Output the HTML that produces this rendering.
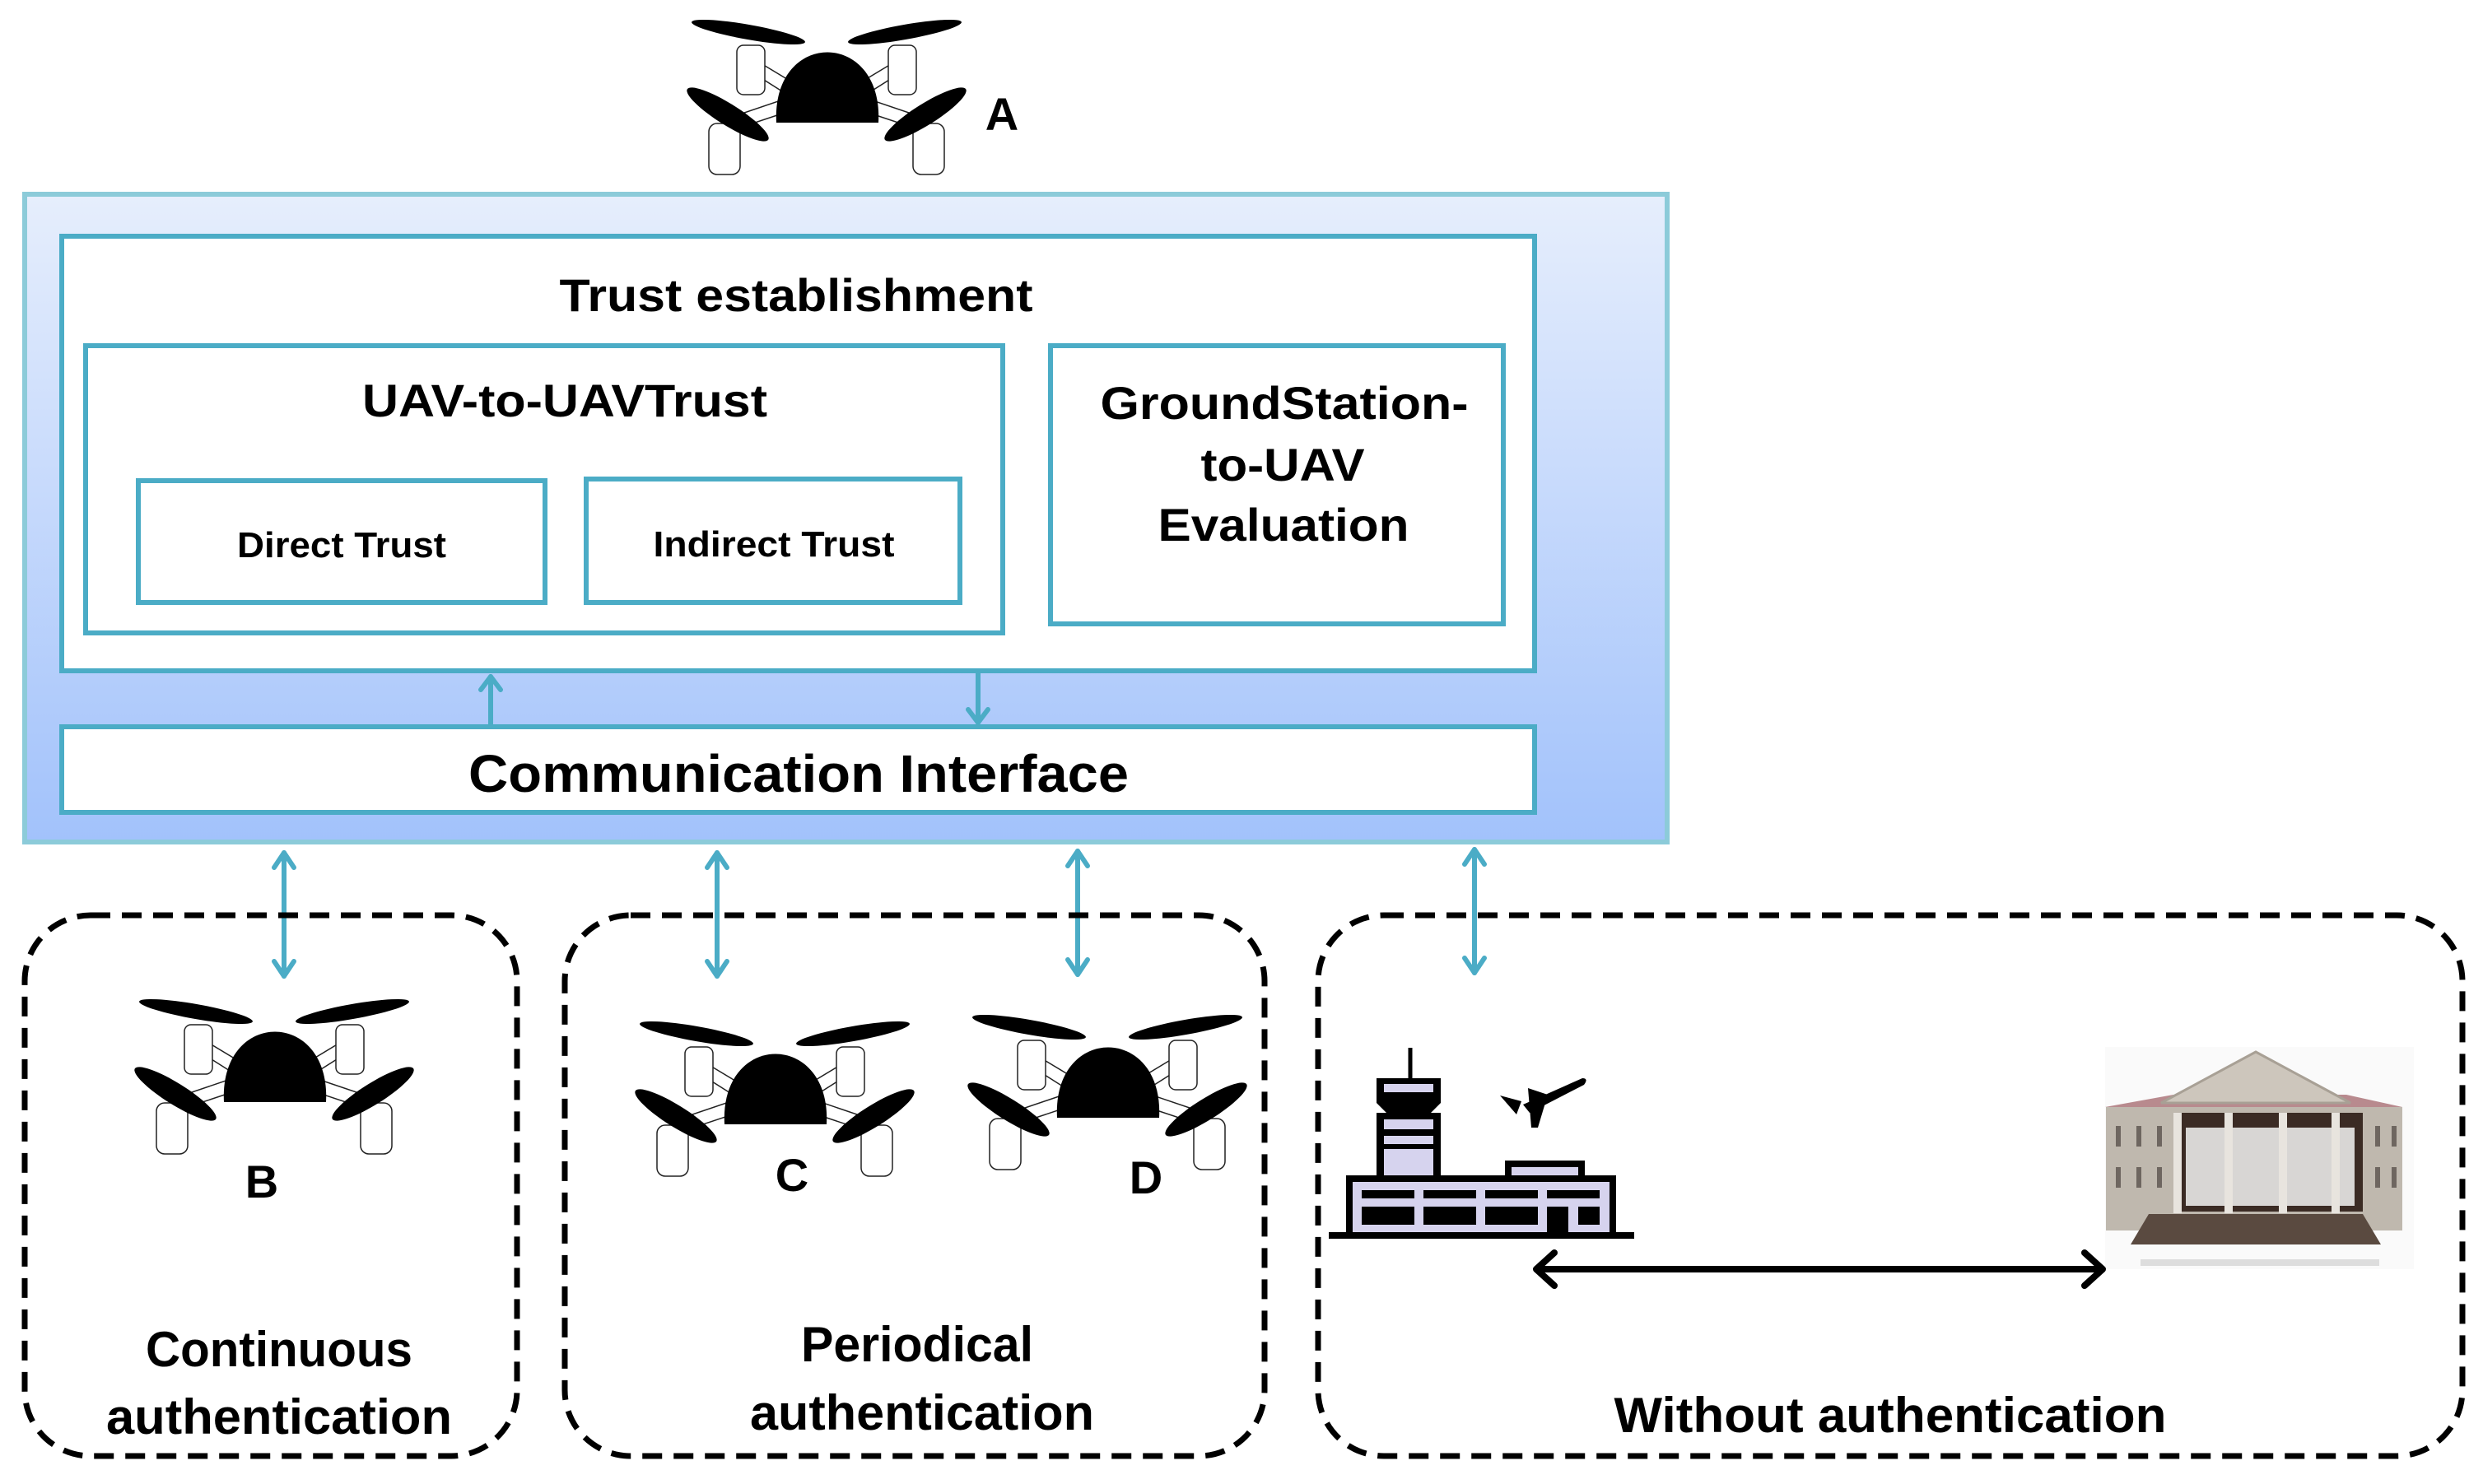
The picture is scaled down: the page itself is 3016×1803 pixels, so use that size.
<!DOCTYPE html>
<html><head><meta charset="utf-8"><style>
html,body{margin:0;padding:0;background:#fff;}
svg{display:block;}
text{font-family:"Liberation Sans",sans-serif;font-weight:bold;fill:#000;}
</style></head><body>
<svg width="3016" height="1803" viewBox="0 0 3016 1803" xmlns="http://www.w3.org/2000/svg">
<defs>
<linearGradient id="bg" x1="0" y1="0" x2="0" y2="1">
<stop offset="0" stop-color="#e6eefc"/><stop offset="1" stop-color="#a2c2fb"/>
</linearGradient>
<g id="drone">
 <g stroke="#222" stroke-width="1.5" fill="#fff">
  <polygon points="80,70 92,60 150,95 140,108"/>
  <polygon points="270,70 258,60 200,95 210,108"/>
  <polygon points="85,135 75,122 140,100 145,115"/>
  <polygon points="265,135 275,122 210,100 205,115"/>
  <rect x="66" y="40" width="34" height="60" rx="8"/>
  <rect x="250" y="40" width="34" height="60" rx="8"/>
  <rect x="32" y="135" width="38" height="62" rx="10"/>
  <rect x="280" y="135" width="38" height="62" rx="10"/>
 </g>
 <path d="M114,134 C108,20 244,20 238,134 Z" fill="#000"/>
 <ellipse cx="80" cy="24" rx="70" ry="9" transform="rotate(10 80 24)" fill="#000"/>
 <ellipse cx="270" cy="24" rx="70" ry="9" transform="rotate(-10 270 24)" fill="#000"/>
 <ellipse cx="55" cy="124" rx="58" ry="13" transform="rotate(32 55 124)" fill="#000"/>
 <ellipse cx="295" cy="124" rx="58" ry="13" transform="rotate(-32 295 124)" fill="#000"/>
</g>
</defs>

<use href="#drone" transform="translate(829,15)"/>
<use href="#drone" transform="translate(158,1205)"/>
<use href="#drone" transform="translate(766,1232)"/>
<use href="#drone" transform="translate(1170,1224)"/>
<text x="1217" y="158" font-size="56" text-anchor="middle">A</text>
<text x="318" y="1455" font-size="56" text-anchor="middle">B</text>
<text x="962" y="1447" font-size="56" text-anchor="middle">C</text>
<text x="1392" y="1450" font-size="56" text-anchor="middle">D</text>

<rect x="30" y="236" width="1995" height="787" fill="url(#bg)" stroke="#8ccbd9" stroke-width="6"/>
<g fill="#fff" stroke="#4bacc6" stroke-width="6">
 <rect x="75" y="287" width="1789" height="528"/>
 <rect x="104" y="420" width="1114" height="349"/>
 <rect x="168" y="584" width="494" height="148"/>
 <rect x="712" y="582" width="454" height="150"/>
 <rect x="1276" y="420" width="550" height="338"/>
 <rect x="75" y="883" width="1789" height="104"/>
</g>
<text x="967" y="378" font-size="56" text-anchor="middle" textLength="575" lengthAdjust="spacingAndGlyphs">Trust establishment</text>
<text x="686" y="506" font-size="56" text-anchor="middle" textLength="492" lengthAdjust="spacingAndGlyphs">UAV-to-UAVTrust</text>
<text x="415" y="677" font-size="44" text-anchor="middle" textLength="254" lengthAdjust="spacingAndGlyphs">Direct Trust</text>
<text x="940" y="676" font-size="44" text-anchor="middle" textLength="293" lengthAdjust="spacingAndGlyphs">Indirect Trust</text>
<text x="1560" y="509" font-size="56" text-anchor="middle" textLength="447" lengthAdjust="spacingAndGlyphs">GroundStation-</text>
<text x="1558" y="584" font-size="56" text-anchor="middle" textLength="199" lengthAdjust="spacingAndGlyphs">to-UAV</text>
<text x="1559" y="657" font-size="56" text-anchor="middle" textLength="305" lengthAdjust="spacingAndGlyphs">Evaluation</text>
<text x="970" y="962" font-size="64" text-anchor="middle" textLength="802" lengthAdjust="spacingAndGlyphs">Communication Interface</text>

<g stroke="#4bacc6" stroke-width="6" fill="none" stroke-linecap="round" stroke-linejoin="round">
 <line x1="596" y1="883" x2="596" y2="822"/><polyline points="584,838 596,822 608,838"/>
 <line x1="1188" y1="818" x2="1188" y2="878"/><polyline points="1176,862 1188,878 1200,862"/>
 <line x1="345" y1="1036" x2="345" y2="1186"/><polyline points="333,1054 345,1036 357,1054"/><polyline points="333,1168 345,1186 357,1168"/>
 <line x1="871" y1="1036" x2="871" y2="1186"/><polyline points="859,1054 871,1036 883,1054"/><polyline points="859,1168 871,1186 883,1168"/>
 <line x1="1309" y1="1034" x2="1309" y2="1184"/><polyline points="1297,1052 1309,1034 1321,1052"/><polyline points="1297,1166 1309,1184 1321,1166"/>
 <line x1="1791" y1="1032" x2="1791" y2="1182"/><polyline points="1779,1050 1791,1032 1803,1050"/><polyline points="1779,1164 1791,1182 1803,1164"/>
</g>

<g fill="none" stroke="#000" stroke-width="7" stroke-dasharray="24,14">
 <rect x="30" y="1112" width="598" height="657" rx="80"/>
 <rect x="686" y="1112" width="850" height="657" rx="80"/>
 <rect x="1601" y="1112" width="1390" height="657" rx="80"/>
</g>
<text x="339" y="1660" font-size="60" text-anchor="middle" textLength="324" lengthAdjust="spacingAndGlyphs">Continuous</text>
<text x="339" y="1742" font-size="60" text-anchor="middle" textLength="420" lengthAdjust="spacingAndGlyphs">authentication</text>
<text x="1114" y="1654" font-size="60" text-anchor="middle" textLength="282" lengthAdjust="spacingAndGlyphs">Periodical</text>
<text x="1120" y="1737" font-size="60" text-anchor="middle" textLength="418" lengthAdjust="spacingAndGlyphs">authentication</text>
<text x="2296" y="1740" font-size="60" text-anchor="middle" textLength="671" lengthAdjust="spacingAndGlyphs">Without authentication</text>

<g>
 <line x1="1713" y1="1273" x2="1713" y2="1312" stroke="#000" stroke-width="5"/>
 <path d="M1672,1310 H1750 V1340 L1738,1352 H1684 L1672,1340 Z" fill="#000"/>
 <rect x="1681" y="1317" width="60" height="10" fill="#d6d3ee"/>
 <rect x="1672" y="1352" width="78" height="80" fill="#000"/>
 <rect x="1681" y="1360" width="60" height="12" fill="#d6d3ee"/>
 <rect x="1681" y="1380" width="60" height="10" fill="#d6d3ee"/>
 <rect x="1681" y="1396" width="60" height="32" fill="#d6d3ee"/>
 <rect x="1828" y="1410" width="97" height="22" fill="#000"/>
 <rect x="1836" y="1418" width="81" height="10" fill="#d6d3ee"/>
 <rect x="1635" y="1428" width="328" height="72" fill="#000"/>
 <rect x="1643" y="1436" width="312" height="62" fill="#d6d3ee"/>
 <g fill="#000">
  <rect x="1654" y="1446" width="64" height="10"/><rect x="1729" y="1446" width="64" height="10"/><rect x="1804" y="1446" width="64" height="10"/><rect x="1879" y="1446" width="64" height="10"/>
  <rect x="1654" y="1466" width="64" height="22"/><rect x="1729" y="1466" width="64" height="22"/><rect x="1804" y="1466" width="64" height="22"/>
  <rect x="1879" y="1466" width="26" height="32"/><rect x="1917" y="1466" width="26" height="22"/>
 </g>
 <rect x="1614" y="1497" width="371" height="8" fill="#000"/>
 <g fill="#000">
  <path d="M1850,1342 L1922,1310 Q1930,1310 1924,1318 L1858,1352 Z"/>
  <path d="M1856,1322 L1880,1330 L1868,1370 L1860,1370 Z"/>
  <path d="M1822,1331 L1848,1338 L1842,1354 Z"/>
 </g>
</g>

<g>
 <rect x="2557" y="1272" width="375" height="270" fill="#fafafa"/>
 <polygon points="2557,1345 2640,1330 2850,1330 2918,1345" fill="#b88a8e"/>
 <rect x="2558" y="1345" width="360" height="150" fill="#bfb8ae"/>
 <polygon points="2625,1340 2740,1278 2855,1340" fill="#cdc6bc" stroke="#a8a095" stroke-width="3"/>
 <rect x="2643" y="1352" width="227" height="120" fill="#3b2b24"/>
 <rect x="2655" y="1370" width="205" height="95" fill="#d8d6d4"/>
 <g fill="#e8e4de"><rect x="2640" y="1352" width="10" height="122"/><rect x="2702" y="1352" width="10" height="122"/><rect x="2768" y="1352" width="10" height="122"/><rect x="2832" y="1352" width="10" height="122"/></g>
 <g fill="#6e6660"><rect x="2570" y="1368" width="6" height="25"/><rect x="2595" y="1368" width="6" height="25"/><rect x="2620" y="1368" width="6" height="25"/><rect x="2570" y="1418" width="6" height="25"/><rect x="2595" y="1418" width="6" height="25"/><rect x="2620" y="1418" width="6" height="25"/>
 <rect x="2885" y="1368" width="6" height="25"/><rect x="2905" y="1368" width="6" height="25"/><rect x="2885" y="1418" width="6" height="25"/><rect x="2905" y="1418" width="6" height="25"/></g>
 <polygon points="2610,1475 2870,1475 2892,1512 2588,1512" fill="#5a4a40"/>
 <rect x="2600" y="1530" width="290" height="8" fill="#ddd"/>
</g>

<g stroke="#000" stroke-width="8" fill="none" stroke-linecap="round" stroke-linejoin="round">
 <line x1="1868" y1="1542" x2="2552" y2="1542"/>
 <polyline points="1888,1522 1866,1542 1888,1562"/>
 <polyline points="2532,1522 2554,1542 2532,1562"/>
</g>
</svg>
</body></html>
